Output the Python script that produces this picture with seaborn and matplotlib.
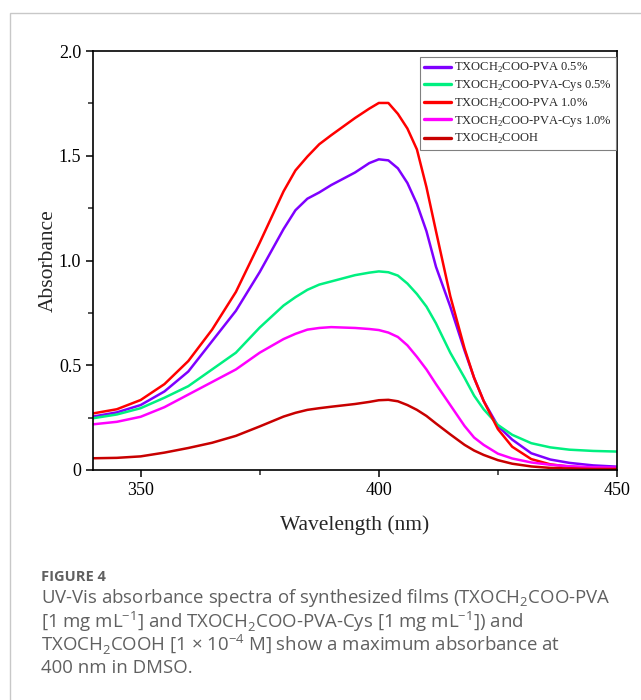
import numpy as np
import pandas as pd
import matplotlib.pyplot as plt
import matplotlib.patches as patches
from matplotlib.ticker import MultipleLocator, FixedLocator, FuncFormatter
import seaborn as sns

# wavelength grid (nm)
wavelength = [340, 345, 350, 355, 360, 365, 370, 375, 380, 382.5, 385, 387.5, 390, 395, 398, 400, 402, 404,
              406, 408, 410, 412, 415, 418, 420, 422, 425, 428, 432, 436, 440, 445, 450]

pva_05 = [0.255, 0.275, 0.31, 0.375, 0.47, 0.615, 0.76, 0.945, 1.15, 1.24, 1.295, 1.325, 1.36, 1.42, 1.465, 1.483,
          1.478, 1.44, 1.37, 1.27, 1.14, 0.97, 0.78, 0.57, 0.44, 0.33, 0.21, 0.145, 0.08, 0.05, 0.034, 0.022, 0.016]
pva_cys_05 = [0.247, 0.265, 0.295, 0.345, 0.40, 0.48, 0.56, 0.68, 0.785, 0.825, 0.86, 0.885, 0.9, 0.93, 0.942, 0.948,
              0.944, 0.928, 0.89, 0.84, 0.78, 0.7, 0.56, 0.44, 0.355, 0.29, 0.215, 0.168, 0.128, 0.108, 0.097, 0.091, 0.088]
pva_10 = [0.27, 0.29, 0.334, 0.41, 0.52, 0.67, 0.85, 1.085, 1.33, 1.43, 1.496, 1.555, 1.598, 1.68, 1.725, 1.752,
          1.752, 1.70, 1.63, 1.53, 1.35, 1.14, 0.83, 0.58, 0.44, 0.33, 0.195, 0.111, 0.052, 0.027, 0.016, 0.01, 0.008]
pva_cys_10 = [0.218, 0.23, 0.254, 0.3, 0.36, 0.42, 0.48, 0.56, 0.625, 0.65, 0.67, 0.678, 0.682, 0.678, 0.673, 0.668,
              0.656, 0.635, 0.595, 0.54, 0.48, 0.41, 0.31, 0.21, 0.155, 0.12, 0.078, 0.055, 0.036, 0.025, 0.018, 0.013, 0.011]
cooh = [0.056, 0.058, 0.065, 0.083, 0.105, 0.13, 0.163, 0.208, 0.255, 0.273, 0.287, 0.295, 0.302, 0.315, 0.325, 0.333,
        0.335, 0.328, 0.31, 0.287, 0.258, 0.222, 0.17, 0.12, 0.093, 0.072, 0.047, 0.03, 0.017, 0.01, 0.007, 0.005, 0.005]

labels = ["TXOCH$_2$COO-PVA 0.5%", "TXOCH$_2$COO-PVA-Cys 0.5%", "TXOCH$_2$COO-PVA 1.0%",
          "TXOCH$_2$COO-PVA-Cys 1.0%", "TXOCH$_2$COOH"]
colors = ["#7f00ff", "#00f080", "#ff0000", "#ff00ff", "#c80000"]
series = [pva_05, pva_cys_05, pva_10, pva_cys_10, cooh]

sns.set_theme(style="ticks")
plt.rcParams["font.family"] = ["Liberation Serif", "DejaVu Serif"]
plt.rcParams["mathtext.fontset"] = "custom"
plt.rcParams["mathtext.rm"] = "Liberation Serif"
plt.rcParams["mathtext.sf"] = "Open Sans"

fig = plt.figure(figsize=(6.41, 7.0), dpi=100)
ax = fig.add_axes([93 / 641, 1 - 470 / 700, 524 / 641, 419 / 700])

for lab, col, vals in zip(labels, colors, series):
    sns.lineplot(x=wavelength, y=vals, color=col, label=lab, linewidth=1.8, ax=ax)

ax.set_xlim(340, 450)
ax.set_ylim(0, 2.0)
ax.xaxis.set_major_locator(FixedLocator([350, 400, 450]))
ax.xaxis.set_minor_locator(FixedLocator([375, 425]))
ax.yaxis.set_major_locator(MultipleLocator(0.5))
ax.yaxis.set_minor_locator(MultipleLocator(0.25))
ax.yaxis.set_major_formatter(FuncFormatter(lambda v, p: "0" if v == 0 else f"{v:.1f}"))
ax.tick_params(which="major", direction="out", length=5, width=1.1, labelsize=13, colors="black")
ax.tick_params(which="minor", direction="out", length=3.5, width=1.1)
for s in ax.spines.values():
    s.set_linewidth(1.2)
    s.set_color("black")

ax.set_xlabel("Wavelength (nm)", fontsize=15.5, labelpad=12)
ax.set_ylabel("Absorbance", fontsize=15.5, labelpad=1)

leg = ax.legend(loc="upper right", bbox_to_anchor=(0.998, 0.986), borderaxespad=0,
                fontsize=9, handlelength=2.1, handletextpad=0.25, labelspacing=0.25,
                borderpad=0.35, fancybox=False, framealpha=1, edgecolor="#808080")
leg.get_frame().set_linewidth(0.8)
for h in leg.get_lines():
    h.set_linewidth(2.4)

# outer panel frame
fig.patches.append(patches.Rectangle((10 / 641, -0.1), 1.2, 1.1 - 13 / 700, transform=fig.transFigure,
                                     fill=False, edgecolor="#c8c8c8", linewidth=1.0))

cap_color = "#606060"
fig.text(41 / 641, 1 - 577 / 700, "FIGURE 4", fontsize=10.5, color=cap_color,
         family="Open Sans", fontweight="bold", va="center")
caption = [
    "UV-Vis absorbance spectra of synthesized films (TXOCH$_\\mathsf{2}$COO-PVA",
    "[1 mg mL$^{\\mathsf{-1}}$] and TXOCH$_\\mathsf{2}$COO-PVA-Cys [1 mg mL$^{\\mathsf{-1}}$]) and",
    "TXOCH$_\\mathsf{2}$COOH [1 \u00d7 10$^{\\mathsf{-4}}$ M] show a maximum absorbance at",
    "400 nm in DMSO.",
]
for i, line in enumerate(caption):
    fig.text(41 / 641, 1 - (598 + i * 23.3) / 700, line, fontsize=13.4, color=cap_color,
             family="Open Sans", va="center")

fig.savefig("out.png", dpi=100)
